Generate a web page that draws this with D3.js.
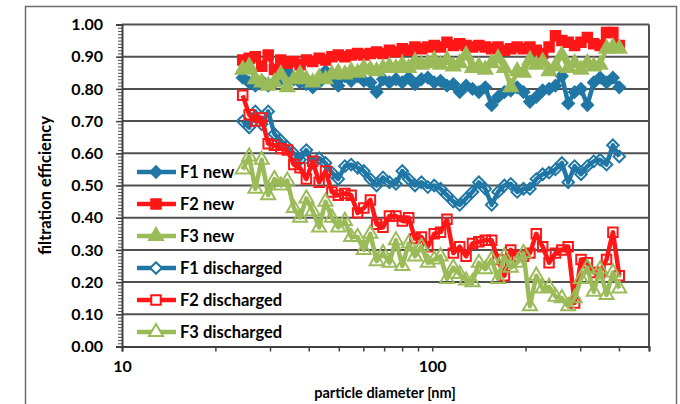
<!DOCTYPE html>
<html>
<head>
<meta charset="utf-8">
<script src="https://cdn.jsdelivr.net/npm/d3@7"></script>
<style>
  body { margin: 0; background: #fff; }
  text { font-family: Lato, "Open Sans", sans-serif; font-weight: bold; fill: #000; }
</style>
</head>
<body>
<div id="chart"></div>
<script>
// particle diameter channels [nm]
const diameters = [24.5, 25.7, 26.9, 28.2, 29.6, 31.0, 32.5, 34.1, 35.8, 37.5,
  39.3, 41.2, 43.2, 45.3, 47.5, 49.8, 52.3, 54.8, 57.5, 60.2,
  63.2, 66.2, 69.4, 72.8, 76.4, 80.1, 84.0, 88.0, 92.3, 96.8,
  101.5, 106.4, 111.6, 117.0, 122.7, 128.6, 134.9, 141.4, 148.3, 155.5,
  163.0, 170.9, 179.2, 187.9, 197.0, 206.6, 216.6, 227.1, 238.1, 249.7,
  261.8, 274.5, 287.8, 301.8, 316.4, 331.8, 347.9, 364.8, 382.5, 401.0]

const f1New = [0.835, 0.82, 0.81, 0.825, 0.81, 0.82, 0.83, 0.855, 0.83, 0.82,
  0.815, 0.805, 0.82, 0.855, 0.83, 0.81, 0.84, 0.825, 0.84, 0.825,
  0.82, 0.79, 0.83, 0.82, 0.83, 0.82, 0.835, 0.815, 0.83, 0.835,
  0.82, 0.825, 0.81, 0.815, 0.79, 0.81, 0.80, 0.79, 0.805, 0.75,
  0.775, 0.79, 0.795, 0.805, 0.79, 0.76, 0.775, 0.795, 0.80, 0.81,
  0.84, 0.755, 0.79, 0.80, 0.75, 0.82, 0.835, 0.82, 0.835, 0.805]

const f2New = [0.89, 0.895, 0.90, 0.87, 0.905, 0.86, 0.89, 0.88, 0.885, 0.875,
  0.89, 0.885, 0.895, 0.89, 0.90, 0.905, 0.90, 0.905, 0.91, 0.905,
  0.91, 0.915, 0.91, 0.92, 0.915, 0.925, 0.92, 0.93, 0.925, 0.93,
  0.935, 0.93, 0.945, 0.935, 0.94, 0.935, 0.93, 0.935, 0.93, 0.925,
  0.93, 0.92, 0.925, 0.93, 0.925, 0.93, 0.92, 0.91, 0.93, 0.965,
  0.95, 0.945, 0.935, 0.945, 0.96, 0.94, 0.935, 0.975, 0.975, 0.935]

const f3New = [0.86, 0.87, 0.83, 0.82, 0.81, 0.82, 0.845, 0.805, 0.83, 0.845,
  0.83, 0.82, 0.835, 0.83, 0.845, 0.85, 0.845, 0.855, 0.85, 0.865,
  0.86, 0.855, 0.865, 0.87, 0.865, 0.875, 0.865, 0.885, 0.875, 0.88,
  0.89, 0.875, 0.89, 0.87, 0.88, 0.905, 0.865, 0.87, 0.86, 0.88,
  0.895, 0.865, 0.805, 0.855, 0.85, 0.89, 0.875, 0.885, 0.855, 0.87,
  0.905, 0.865, 0.88, 0.86, 0.88, 0.87, 0.875, 0.925, 0.93, 0.925]

const f1Dis = [0.70, 0.68, 0.73, 0.69, 0.73, 0.66, 0.64, 0.62, 0.60, 0.58,
  0.61, 0.57, 0.585, 0.57, 0.54, 0.52, 0.56, 0.565, 0.555, 0.545,
  0.52, 0.50, 0.525, 0.51, 0.505, 0.545, 0.52, 0.50, 0.51, 0.495,
  0.50, 0.49, 0.47, 0.45, 0.44, 0.46, 0.48, 0.51, 0.49, 0.44,
  0.48, 0.50, 0.505, 0.48, 0.49, 0.49, 0.52, 0.535, 0.54, 0.55,
  0.57, 0.51, 0.56, 0.535, 0.56, 0.575, 0.58, 0.565, 0.625, 0.59]

const f2Dis = [0.78, 0.72, 0.70, 0.71, 0.63, 0.625, 0.615, 0.61, 0.565, 0.555,
  0.52, 0.575, 0.51, 0.545, 0.48, 0.47, 0.475, 0.47, 0.415, 0.43,
  0.455, 0.38, 0.37, 0.405, 0.405, 0.39, 0.40, 0.335, 0.34, 0.31,
  0.35, 0.355, 0.395, 0.29, 0.31, 0.28, 0.32, 0.325, 0.33, 0.33,
  0.27, 0.22, 0.30, 0.28, 0.28, 0.29, 0.35, 0.31, 0.26, 0.29,
  0.30, 0.31, 0.135, 0.27, 0.26, 0.23, 0.23, 0.27, 0.355, 0.22]

const f3Dis = [0.55, 0.59, 0.49, 0.58, 0.47, 0.52, 0.50, 0.515, 0.43, 0.40,
  0.46, 0.42, 0.37, 0.45, 0.40, 0.37, 0.39, 0.34, 0.34, 0.30,
  0.35, 0.265, 0.29, 0.26, 0.33, 0.25, 0.32, 0.28, 0.31, 0.26,
  0.27, 0.28, 0.21, 0.245, 0.225, 0.205, 0.20, 0.26, 0.24, 0.27,
  0.21, 0.28, 0.245, 0.26, 0.29, 0.125, 0.22, 0.18, 0.185, 0.155,
  0.15, 0.125, 0.15, 0.21, 0.245, 0.17, 0.24, 0.16, 0.23, 0.18]

const seriesNames = ["F1 new", "F2 new", "F3 new", "F1 discharged", "F2 discharged", "F3 discharged"]
const seriesValues = [f1New, f2New, f3New, f1Dis, f2Dis, f3Dis]
const seriesColors = ["#2077a5", "#ff1717", "#9bbb59", "#2077a5", "#ff1717", "#9bbb59"]
const seriesMarkers = ["diamond", "square", "triangle", "diamond", "square", "triangle"]
const seriesHollow = [false, false, false, true, true, true]

const yTicks = [0, 0.1, 0.2, 0.3, 0.4, 0.5, 0.6, 0.7, 0.8, 0.9, 1.0]
const xTicks = [10, 100]
const xMinorTicks = [20, 30, 40, 50, 60, 70, 80, 90, 200, 300, 400, 500]

const W = 680, H = 404
const plot = {left: 122, right: 649, top: 24.5, bottom: 346.5}

const svg = d3.select("#chart")
  .append("svg")
  .attr("width", W)
  .attr("height", H)

// outer chart frame
svg.append("rect")
  .attr("x", 25.5).attr("y", 6.5)
  .attr("width", 651).attr("height", 430)
  .attr("fill", "none")
  .attr("stroke", "#6e6e6e")
  .attr("stroke-width", 1.5)

const x = d3.scaleLog().domain([10, 500]).range([plot.left, plot.right])
const y = d3.scaleLinear().domain([0, 1]).range([plot.bottom, plot.top])

// gridlines
svg.append("g")
  .selectAll("line")
  .data(yTicks.filter(d => d > 0))
  .enter()
  .append("line")
  .attr("x1", plot.left).attr("x2", plot.right)
  .attr("y1", d => y(d)).attr("y2", d => y(d))
  .attr("stroke", "#505050")
  .attr("stroke-width", 2)

// right border of plot area
svg.append("line")
  .attr("x1", plot.right).attr("x2", plot.right)
  .attr("y1", plot.top).attr("y2", plot.bottom)
  .attr("stroke", "#505050")
  .attr("stroke-width", 2)

// y minor ticks
const yMinor = d3.range(0, 101).map(i => i / 100)
svg.append("g")
  .attr("transform", `translate(${plot.left},0)`)
  .call(d3.axisLeft(y).tickValues(yMinor).tickSize(4).tickFormat(""))
  .call(g => g.select(".domain").remove())
  .call(g => g.selectAll("line").attr("stroke", "#505050").attr("stroke-width", 1))

// y axis
svg.append("g")
  .attr("transform", `translate(${plot.left},0)`)
  .call(d3.axisLeft(y).tickValues(yTicks).tickSize(6).tickPadding(13).tickFormat(d3.format(".2f")))
  .call(g => g.select(".domain").attr("stroke", "#404040").attr("stroke-width", 2))
  .call(g => g.selectAll("line").attr("stroke", "#404040").attr("stroke-width", 1.5))
  .call(g => g.selectAll("text").attr("font-size", 16).attr("font-family", null))

// x axis minor ticks
svg.append("g")
  .attr("transform", `translate(0,${plot.bottom})`)
  .call(d3.axisBottom(x).tickValues(xMinorTicks).tickSize(5).tickFormat(""))
  .call(g => g.select(".domain").remove())
  .call(g => g.selectAll("line").attr("stroke", "#404040").attr("stroke-width", 1.5))

// x axis
svg.append("g")
  .attr("transform", `translate(0,${plot.bottom})`)
  .call(d3.axisBottom(x).tickValues(xTicks).tickSize(5).tickPadding(9).tickFormat(d3.format("d")))
  .call(g => g.select(".domain").attr("stroke", "#404040").attr("stroke-width", 2))
  .call(g => g.selectAll("line").attr("stroke", "#404040").attr("stroke-width", 1.5))
  .call(g => g.selectAll("text").attr("font-size", 16).attr("font-family", null))

// axis titles
svg.append("text")
  .attr("transform", `translate(51,${(plot.top + plot.bottom) / 2}) rotate(-90)`)
  .attr("text-anchor", "middle")
  .attr("font-size", 16.5)
  .text("filtration efficiency")

svg.append("text")
  .attr("x", 385)
  .attr("y", 398)
  .attr("text-anchor", "middle")
  .attr("font-size", 14.5)
  .text("particle diameter [nm]")

function markerPath(kind) {
  if (kind === "square") return d3.symbol().type(d3.symbolSquare).size(90)()
  if (kind === "triangle") return d3.symbol().type(d3.symbolTriangle).size(85)()
  return d3.symbol().type(d3.symbolSquare).size(66)()
}
function markerRotate(kind) {
  return kind === "diamond" ? " rotate(45)" : ""
}

const line = d3.line()
  .x(d => x(d[0]))
  .y(d => y(d[1]))

seriesValues.forEach(function(values, s) {
  const pts = diameters.map((d, i) => [d, values[i]])
  const g = svg.append("g")

  g.append("path")
    .datum(pts)
    .attr("d", line)
    .attr("fill", "none")
    .attr("stroke", seriesColors[s])
    .attr("stroke-width", 4.5)
    .attr("stroke-linejoin", "round")

  g.selectAll("path.mk")
    .data(pts)
    .enter()
    .append("path")
    .attr("class", "mk")
    .attr("d", markerPath(seriesMarkers[s]))
    .attr("transform", d => `translate(${x(d[0])},${y(d[1])})` + markerRotate(seriesMarkers[s]))
    .attr("fill", seriesHollow[s] ? "none" : seriesColors[s])
    .attr("stroke", seriesColors[s])
    .attr("stroke-width", 2)
})

// legend
const legend = svg.append("g")
seriesNames.forEach(function(name, s) {
  const ly = 172 + s * 32
  legend.append("line")
    .attr("x1", 137).attr("x2", 176)
    .attr("y1", ly).attr("y2", ly)
    .attr("stroke", seriesColors[s])
    .attr("stroke-width", 4.5)
  legend.append("path")
    .attr("d", markerPath(seriesMarkers[s]))
    .attr("transform", `translate(156,${ly})` + markerRotate(seriesMarkers[s]))
    .attr("fill", seriesHollow[s] ? "#fff" : seriesColors[s])
    .attr("stroke", seriesColors[s])
    .attr("stroke-width", 2)
  legend.append("text")
    .attr("x", 180)
    .attr("y", ly + 6)
    .attr("font-size", 16.5)
    .text(name)
})
</script>
</body>
</html>
